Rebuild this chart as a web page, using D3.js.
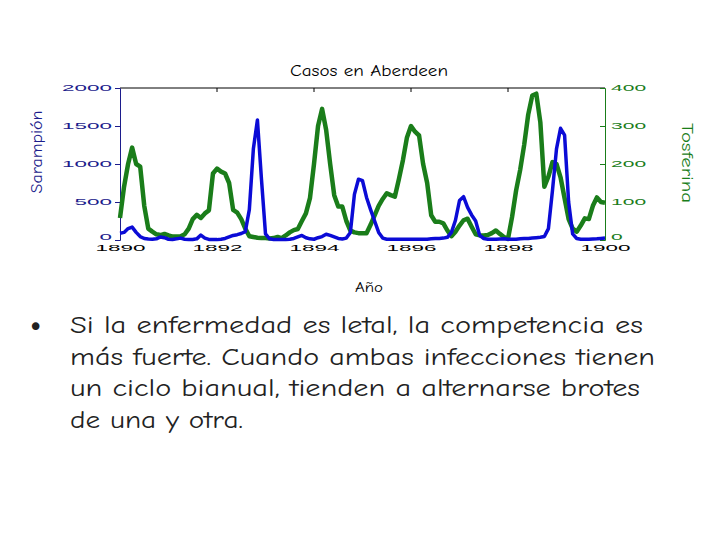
<!DOCTYPE html>
<html><head><meta charset="utf-8">
<script src="https://cdn.jsdelivr.net/npm/d3@7"></script>
<style>body{margin:0;background:#fff;} svg{display:block;}</style>
</head><body>
<script>
// ---- data (monthly, Jan 1890 .. Jan 1900) ----
const startYear = 1890;
const measles = [90,100,150,170,100,45,20,13,10,15,40,30,
  10,8,15,25,10,8,8,15,65,25,8,5,
  5,10,20,40,60,70,85,110,400,1200,1580,800,
  80,15,8,5,5,5,10,20,40,60,30,15,
  10,30,45,75,60,40,20,13,25,100,600,800,
  780,560,400,250,100,25,10,10,10,10,10,10,
  10,10,10,10,10,15,20,20,25,35,100,260,
  520,570,430,330,250,60,20,10,10,10,12,15,
  10,10,10,15,20,20,25,30,35,45,150,650,
  1200,1470,1380,500,80,20,10,10,10,12,15,20,
  25];
const whooping = [58,140,200,243,200,193,90,30,22,15,13,16,
  12,9,9,10,15,30,55,66,58,70,78,175,
  188,180,175,150,79,72,55,30,10,8,6,5,
  5,4,5,8,5,12,20,26,29,50,70,110,
  200,300,345,290,200,118,88,88,50,25,20,18,
  18,18,40,65,90,108,123,118,114,160,210,270,
  300,285,275,200,150,65,48,48,44,25,10,22,
  38,52,56,35,15,12,12,13,18,25,16,8,
  3,60,130,184,250,330,380,385,310,140,167,205,
  200,165,110,55,30,22,38,57,55,90,112,100,
  98];
const yearTicks = [1890,1892,1894,1896,1898,1900];
const leftTicks = [0,500,1000,1500,2000];
const rightTicks = [0,100,200,300,400];
const title = "Casos en Aberdeen";
const leftLabel = "Sarampión";
const rightLabel = "Tosferina";
const xLabel = "Año";
const bulletLines = ["Si la enfermedad es letal, la competencia es",
  "más fuerte. Cuando ambas infecciones tienen",
  "un ciclo bianual, tienden a alternarse brotes",
  "de una y otra."];

const W = 720, H = 540;
const svg = d3.select("body").append("svg").attr("width", W).attr("height", H);
const L = 120, R = 605, T = 88, B = 240;
const x = d3.scaleLinear().domain([1890, 1900]).range([L, R]);
const yL = d3.scaleLinear().domain([0, 2000]).range([B, T]);
const yR = d3.scaleLinear().domain([0, 400]).range([B, T]);
const blue = "#0b0bd6", green = "#1a7d1a", navy = "#1c1c8c";
const tFont = "'Comic Sans MS','Comic Neue','DejaVu Sans',sans-serif";
const nFont = "'Liberation Sans', Arial, sans-serif";

// top border with inner ticks
svg.append("line").attr("x1", L).attr("x2", R).attr("y1", T).attr("y2", T)
  .attr("stroke", "#000").attr("stroke-width", 1);
svg.append("g").selectAll("line").data(yearTicks.slice(1, -1)).join("line")
  .attr("x1", d => x(d)).attr("x2", d => x(d)).attr("y1", T).attr("y2", T + 4)
  .attr("stroke", "#000");

function stretch(sel, per) {
  sel.attr("textLength", d => String(d).length * per).attr("lengthAdjust", "spacingAndGlyphs");
}

// left axis
const gl = svg.append("g").attr("transform", `translate(${L},0)`)
  .call(d3.axisLeft(yL).tickValues(leftTicks).tickSize(5).tickPadding(3).tickFormat(d3.format("d")));
gl.select(".domain").attr("stroke", navy);
gl.selectAll(".tick line").attr("stroke", navy);
gl.selectAll(".tick text").attr("fill", navy).attr("font-family", nFont)
  .attr("font-size", 8.5).attr("dy", "0.3em").call(stretch, 12.5);
gl.selectAll(".tick").filter(d => d === 0).select("text").attr("dy", "-0.05em");

// right axis
const gr = svg.append("g").attr("transform", `translate(${R},0)`)
  .call(d3.axisRight(yR).tickValues(rightTicks).tickSize(-5).tickPadding(6).tickFormat(d3.format("d")));
gr.select(".domain").attr("stroke", green);
gr.selectAll(".tick line").attr("stroke", green);
gr.selectAll(".tick text").attr("fill", green).attr("font-family", nFont)
  .attr("font-size", 8.5).attr("dy", "0.3em").call(stretch, 11.7);
gr.selectAll(".tick").filter(d => d === 0).select("text").attr("dy", "-0.05em");

// bottom labels
const gb = svg.append("g").attr("transform", `translate(0,${B})`)
  .call(d3.axisBottom(x).tickValues(yearTicks).tickSize(0).tickPadding(4).tickFormat(d3.format("d")));
gb.select(".domain").remove();
gb.selectAll(".tick text").attr("fill", "#000").attr("font-family", nFont)
  .attr("font-size", 8.5).attr("dy", "0.85em").call(stretch, 12.5);

// lines
const tOf = i => startYear + i / 12;
svg.append("path").datum(whooping)
  .attr("d", d3.line().x((d, i) => x(tOf(i))).y(d => yR(d)))
  .attr("fill", "none").attr("stroke", green).attr("stroke-width", 4.5).attr("stroke-linejoin", "round");
svg.append("path").datum(measles)
  .attr("d", d3.line().x((d, i) => x(tOf(i))).y(d => yL(d)))
  .attr("fill", "none").attr("stroke", blue).attr("stroke-width", 3.5).attr("stroke-linejoin", "round");

// titles
svg.append("text").attr("x", 369).attr("y", 76).attr("text-anchor", "middle")
  .attr("font-family", tFont).attr("font-size", 16).attr("fill", "#000")
  .attr("textLength", 158).attr("lengthAdjust", "spacingAndGlyphs").text(title);
svg.append("text").attr("transform", "translate(42,152) rotate(-90)").attr("text-anchor", "middle")
  .attr("font-family", tFont).attr("font-size", 16).attr("fill", navy)
  .attr("textLength", 83).attr("lengthAdjust", "spacingAndGlyphs").text(leftLabel);
svg.append("text").attr("transform", "translate(682,163) rotate(90)").attr("text-anchor", "middle")
  .attr("font-family", tFont).attr("font-size", 16).attr("fill", green)
  .attr("textLength", 80).attr("lengthAdjust", "spacingAndGlyphs").text(rightLabel);
svg.append("text").attr("x", 369).attr("y", 292).attr("text-anchor", "middle")
  .attr("font-family", tFont).attr("font-size", 14).attr("fill", "#000")
  .attr("textLength", 28).attr("lengthAdjust", "spacingAndGlyphs").text(xLabel);

// bullet
svg.append("text").attr("x", 28).attr("y", 336).attr("font-family", "DejaVu Sans, sans-serif")
  .attr("font-size", 26).attr("fill", "#222").text("•");
const widths = [573, 585, 570, 173];
svg.append("g").selectAll("text").data(bulletLines).join("text")
  .attr("x", 70).attr("y", (d, i) => 333 + i * 31.5)
  .attr("font-family", tFont).attr("font-size", 25).attr("fill", "#222")
  .attr("textLength", (d, i) => widths[i]).attr("lengthAdjust", "spacingAndGlyphs")
  .text(d => d);
</script>
</body></html>
